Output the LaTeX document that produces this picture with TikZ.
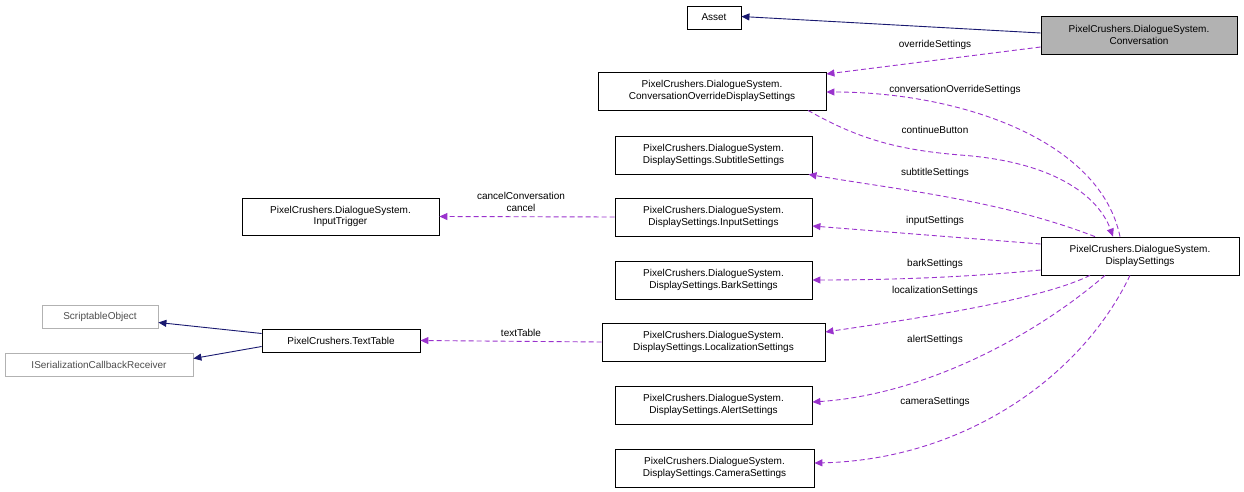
\documentclass[tikz,border=0pt]{standalone}
\usepackage{fontspec}
\setmainfont{Liberation Sans}
\usetikzlibrary{arrows.meta,calc}
\definecolor{pur}{HTML}{9A32CD}
\definecolor{nav}{HTML}{191970}
\begin{document}
\begin{tikzpicture}[x=1pt,y=-1pt,
 box/.style={draw,inner sep=0pt,align=center,font=\fontsize{10}{11.5}\selectfont,line width=0.8pt},
 gbox/.style={box,draw=gray!60,text=gray!60!black},
 dep/.style={pur,line width=0.9pt,dash pattern=on 5pt off 3pt,-{Triangle[length=8pt,width=7pt]}},
 inh/.style={nav,line width=0.9pt,-{Triangle[length=8pt,width=7pt]}},
 lbl/.style={font=\fontsize{10}{11.5}\selectfont,align=center}]
\useasboundingbox (0,0) rectangle (1244,492);
\def\B#1#2#3#4#5#6{\node[#6,minimum width={#4-#2},minimum height={#5-#3}] (#1) at ({(#2+#4)/2},{(#3+#5)/2})}
\B{asset}{687}{6}{741}{29}{box}{Asset};
\B{conv}{1041}{16}{1237}{54}{box,fill=gray!60}{PixelCrushers.DialogueSystem.\\Conversation};
\B{cods}{598}{72}{826}{110}{box}{PixelCrushers.DialogueSystem.\\ConversationOverrideDisplaySettings};
\B{sub}{615}{136}{812}{174}{box}{PixelCrushers.DialogueSystem.\\DisplaySettings.SubtitleSettings};
\B{trig}{242}{198}{439}{235}{box}{PixelCrushers.DialogueSystem.\\InputTrigger};
\B{inp}{615}{198}{812}{236}{box}{PixelCrushers.DialogueSystem.\\DisplaySettings.InputSettings};
\B{ds}{1041}{237}{1239}{275}{box}{PixelCrushers.DialogueSystem.\\DisplaySettings};
\B{bark}{615}{261}{812}{299}{box}{PixelCrushers.DialogueSystem.\\DisplaySettings.BarkSettings};
\B{so}{42}{305}{158}{328}{gbox}{ScriptableObject};
\B{tt}{262}{329}{420}{352}{box}{PixelCrushers.TextTable};
\B{isr}{5}{353}{193}{376}{gbox}{ISerializationCallbackReceiver};
\B{loc}{602}{323}{825}{361}{box}{PixelCrushers.DialogueSystem.\\DisplaySettings.LocalizationSettings};
\B{alert}{615}{386}{812}{424}{box}{PixelCrushers.DialogueSystem.\\DisplaySettings.AlertSettings};
\B{cam}{615}{449}{814}{487}{box}{PixelCrushers.DialogueSystem.\\DisplaySettings.CameraSettings};
\draw[inh] ($(conv.west)+(0,-2)$) -- ($(asset.east)+(0,-1)$);
\draw[dep] ($(conv.west)+(0,12)$) -- ($(cods.east)+(0,-17)$);
\node[lbl] at (935,45) {overrideSettings};
\draw[dep] ($(ds.north)+(-20,0)$) .. controls (1100,140) and (960,92) .. ($(cods.east)+(0,1)$);
\node[lbl] at (955,90) {conversationOverrideSettings};
\draw[dep] ($(cods.south)+(96,0)$) .. controls (860,140) and (900,150) .. (960,155) .. controls (1060,162) and (1100,200) .. ($(ds.north)+(-27,0)$);
\node[lbl] at (935,130) {continueButton};
\draw[dep] ($(ds.north)+(-45,0)$) .. controls (1000,200) and (900,190) .. ($(sub.south)+(95,0)$);
\node[lbl] at (935,173) {subtitleSettings};
\draw[dep] ($(ds.west)+(0,-12)$) -- ($(inp.east)+(0,9)$);
\node[lbl] at (935,221) {inputSettings};
\draw[dep] (inp.west) -- (trig.east);
\node[lbl] at (521,202) {cancelConversation\\cancel};
\draw[dep] ($(ds.west)+(0,14)$) .. controls (960,278) and (880,280) .. (bark.east);
\node[lbl] at (935,264) {barkSettings};
\draw[dep] ($(ds.south)+(-50,0)$) .. controls (1040,300) and (920,318) .. ($(loc.east)+(0,-10)$);
\node[lbl] at (935,291) {localizationSettings};
\draw[dep] ($(ds.south)+(-35,0)$) .. controls (1030,340) and (920,395) .. ($(alert.east)+(0,-3)$);
\node[lbl] at (935,340) {alertSettings};
\draw[dep] ($(ds.south)+(-10,0)$) .. controls (1080,380) and (960,460) .. ($(cam.east)+(0,-5)$);
\node[lbl] at (935,402) {cameraSettings};
\draw[dep] (loc.west) -- (tt.east);
\node[lbl] at (521,333) {textTable};
\draw[inh] ($(tt.west)+(0,-7)$) -- ($(so.east)+(0,6)$);
\draw[inh] ($(tt.west)+(0,6)$) -- ($(isr.east)+(0,-6)$);
\end{tikzpicture}
\end{document}
